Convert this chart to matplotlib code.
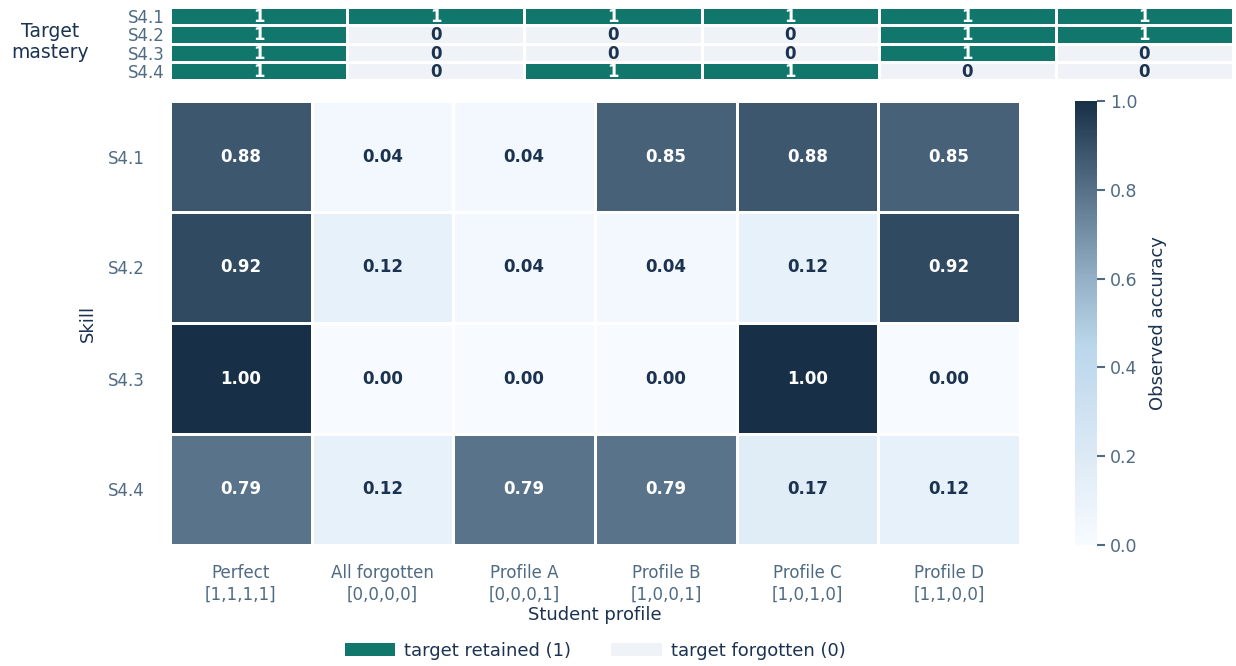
import numpy as np
import matplotlib.pyplot as plt
from matplotlib.colors import LinearSegmentedColormap, ListedColormap
from matplotlib.patches import Patch

skills = ["S4.1", "S4.2", "S4.3", "S4.4"]
profiles = ["Perfect\n[1,1,1,1]", "All forgotten\n[0,0,0,0]", "Profile A\n[0,0,0,1]",
            "Profile B\n[1,0,0,1]", "Profile C\n[1,0,1,0]", "Profile D\n[1,1,0,0]"]

# observed accuracy, rows = skills, cols = profiles
accuracy = np.array([
    [0.88, 0.04, 0.04, 0.85, 0.88, 0.85],
    [0.92, 0.12, 0.04, 0.04, 0.12, 0.92],
    [1.00, 0.00, 0.00, 0.00, 1.00, 0.00],
    [0.79, 0.12, 0.79, 0.79, 0.17, 0.12],
])

# target mastery, rows = skills, cols = profiles
mastery = np.array([
    [1, 1, 1, 1, 1, 1],
    [1, 0, 0, 0, 1, 1],
    [1, 0, 0, 0, 1, 0],
    [1, 0, 1, 1, 0, 0],
])

navy = "#1b3350"
label_col = "#4f6b84"
teal = "#11766b"
pale = "#eff3f8"

plt.rcParams['font.family'] = 'DejaVu Sans'

cmap = LinearSegmentedColormap.from_list(
    "acc", [(0.0, "#f7fbff"), (0.17, "#e0ecf6"), (0.45, "#bad6eb"),
            (0.6, "#94b0c6"), (0.79, "#5a758b"), (1.0, "#173048")])

fig = plt.figure(figsize=(12.36, 6.66), dpi=100)
W, H = 1236, 666

# main heatmap
ax = fig.add_axes([170 / W, 1 - 545 / H, 850 / W, 444 / H])
mesh = ax.pcolormesh(accuracy, cmap=cmap, vmin=0, vmax=1, edgecolors="white", linewidth=2)
ax.set_xlim(0, 6)
ax.set_ylim(4, 0)
for i in range(accuracy.shape[0]):
    for j in range(accuracy.shape[1]):
        v = accuracy[i, j]
        ax.text(j + 0.5, i + 0.5, f"{v:.2f}", ha="center", va="center",
                fontsize=12, fontweight="bold", color="white" if v > 0.6 else navy)
ax.set_xticks(np.arange(6) + 0.5)
ax.set_xticklabels(profiles, fontsize=12, color=label_col)
ax.set_yticks(np.arange(4) + 0.5)
ax.set_yticklabels(skills, fontsize=12, color=label_col)
ax.tick_params(length=0, pad=14)
ax.tick_params(axis="y", pad=18)
for s in ax.spines.values():
    s.set_visible(False)
ax.set_xlabel("Student profile", fontsize=13, color=navy, labelpad=2)
ax.set_ylabel("Skill", fontsize=13, color=navy, labelpad=8)

# colorbar
cax = fig.add_axes([1075 / W, 1 - 545 / H, 22 / W, 444 / H])
cb = fig.colorbar(mesh, cax=cax)
cb.outline.set_visible(False)
cb.set_ticks([0, 0.2, 0.4, 0.6, 0.8, 1.0])
cb.ax.tick_params(labelsize=12.5, colors=label_col, length=6, width=1.5)
cb.set_label("Observed accuracy", fontsize=13, color=navy, labelpad=8)

# target mastery strip
tax = fig.add_axes([170 / W, 1 - 80 / H, 1063 / W, 73 / H])
tax.pcolormesh(mastery, cmap=ListedColormap([pale, teal]), vmin=0, vmax=1,
               edgecolors="white", linewidth=2)
tax.set_xlim(0, 6)
tax.set_ylim(4, 0)
for i in range(mastery.shape[0]):
    for j in range(mastery.shape[1]):
        m = mastery[i, j]
        tax.text(j + 0.5, i + 0.55, str(m), ha="center", va="center", fontsize=12,
                 fontweight="bold", color="white" if m == 1 else navy)
tax.set_xticks([])
tax.set_yticks(np.arange(4) + 0.5)
tax.set_yticklabels(skills, fontsize=12, color=label_col)
tax.tick_params(length=0, pad=4)
for s in tax.spines.values():
    s.set_visible(False)
fig.text(50 / W, 1 - 42 / H, "Target\nmastery", ha="center", va="center",
         fontsize=13.5, color=navy, linespacing=1.1)

# legend
handles = [Patch(facecolor=teal, label="target retained (1)"),
           Patch(facecolor=pale, label="target forgotten (0)")]
leg = fig.legend(handles=handles, loc="center", bbox_to_anchor=(595 / W, 1 - 651 / H),
                 ncol=2, frameon=False, fontsize=13, handlelength=2.8,
                 handletextpad=0.5, columnspacing=2.2)
for t in leg.get_texts():
    t.set_color(navy)

fig.savefig("out.png", dpi=100)
